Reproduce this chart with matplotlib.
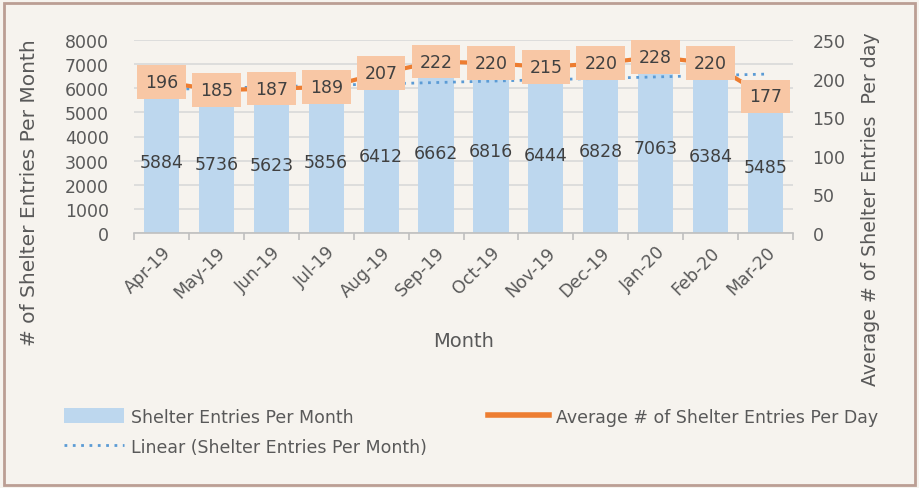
import matplotlib
matplotlib.use("Agg")
import matplotlib.pyplot as plt
import numpy as np
from matplotlib.patches import Patch, Rectangle
from matplotlib.lines import Line2D

months = ["Apr-19", "May-19", "Jun-19", "Jul-19", "Aug-19", "Sep-19",
          "Oct-19", "Nov-19", "Dec-19", "Jan-20", "Feb-20", "Mar-20"]
entries_per_month = [5884, 5736, 5623, 5856, 6412, 6662, 6816, 6444, 6828, 7063, 6384, 5485]
avg_per_day = [196, 185, 187, 189, 207, 222, 220, 215, 220, 228, 220, 177]
left_ticks = [0, 1000, 2000, 3000, 4000, 5000, 6000, 7000, 8000]
right_ticks = [0, 50, 100, 150, 200, 250]

plt.rcParams['font.family'] = ['DejaVu Sans']
W, H = 919, 489
fig = plt.figure(figsize=(W / 100, H / 100), dpi=100)
bg = '#f6f3ee'
fig.patch.set_facecolor(bg)
fig.patches.append(Rectangle((4 / W, 3 / H), (W - 8) / W, (H - 7) / H, transform=fig.transFigure,
                             fill=False, edgecolor='#bb9e94', linewidth=2))

ax = fig.add_axes([134 / W, 1 - 234 / H, (793 - 134) / W, (234 - 41) / H])
ax.set_facecolor('none')
x = np.arange(len(months))
bars = ax.bar(x, entries_per_month, width=0.64, color='#bdd7ee', zorder=2)
ax.set_xlim(-0.5, len(months) - 0.5)
ax.set_ylim(0, 8000)
ax.set_yticks(left_ticks)
ax.yaxis.grid(True, color='#d9d9d9', linewidth=1.2, zorder=0)
ax.set_axisbelow(True)
for s in ['top', 'right', 'left']:
    ax.spines[s].set_visible(False)
ax.spines['bottom'].set_color('#bfbfbf')
ax.spines['bottom'].set_linewidth(1.2)
ax.tick_params(axis='y', length=0, labelsize=12.5, labelcolor='#595959', pad=18)
ax.set_xticks(x)
ax.set_xticklabels(months, rotation=45, ha='right', rotation_mode='anchor', fontsize=12.5,
                   color='#595959')
ax.tick_params(axis='x', length=0, pad=7)
ax.set_xticks(np.arange(-0.5, len(months), 1), minor=True)
ax.tick_params(axis='x', which='minor', length=5, color='#bfbfbf', width=1.2)
ax.bar_label(bars, labels=[str(v) for v in entries_per_month], label_type='center',
             fontsize=12.5, color='#404040')
ax.set_xlabel("Month", fontsize=14, color='#595959', labelpad=22)

coef = np.polyfit(x, entries_per_month, 1)
trend = np.polyval(coef, x)
ax.plot(x, trend, linestyle=(0, (1, 2)), color='#5b9bd5', linewidth=2, zorder=3)

ax2 = ax.twinx()
ax2.set_ylim(0, 250)
ax2.set_yticks(right_ticks)
for s in ['top', 'right', 'left', 'bottom']:
    ax2.spines[s].set_visible(False)
ax2.tick_params(axis='y', length=0, labelsize=12.5, labelcolor='#595959', pad=14)
ax2.plot(x, avg_per_day, color='#ed7d31', linewidth=3, zorder=3)
for xi, v in zip(x, avg_per_day):
    ax2.annotate(str(v), (xi, v), ha='center', va='center', fontsize=12.5, color='#404040',
                 bbox=dict(boxstyle='square,pad=0.45', facecolor='#f8c7a5', edgecolor='none'),
                 zorder=5)

fig.text(30 / W, 1 - 193 / H, "# of Shelter Entries Per Month", rotation=90, ha='center',
         va='center', fontsize=14.5, color='#595959')
fig.text(871 / W, 1 - 209 / H, "Average # of Shelter Entries  Per day", rotation=90,
         ha='center', va='center', fontsize=13.7, color='#595959')

handles = [Patch(facecolor='#bdd7ee', edgecolor='none'),
           Line2D([], [], linestyle=(0, (1, 2)), color='#5b9bd5', linewidth=2),
           Line2D([], [], color='#ed7d31', linewidth=4)]
labels = ["Shelter Entries Per Month", "Linear (Shelter Entries Per Month)",
          "Average # of Shelter Entries Per Day"]
leg = fig.legend(handles, labels, loc='upper left', bbox_to_anchor=(48 / W, 1 - 393 / H),
                 ncol=2, frameon=False, fontsize=12.5, handlelength=3.5, handleheight=1.0,
                 handletextpad=0.4, columnspacing=3.5, labelspacing=0.7,
                 labelcolor='#595959')

fig.savefig("out.png", dpi=100, facecolor=fig.get_facecolor())
